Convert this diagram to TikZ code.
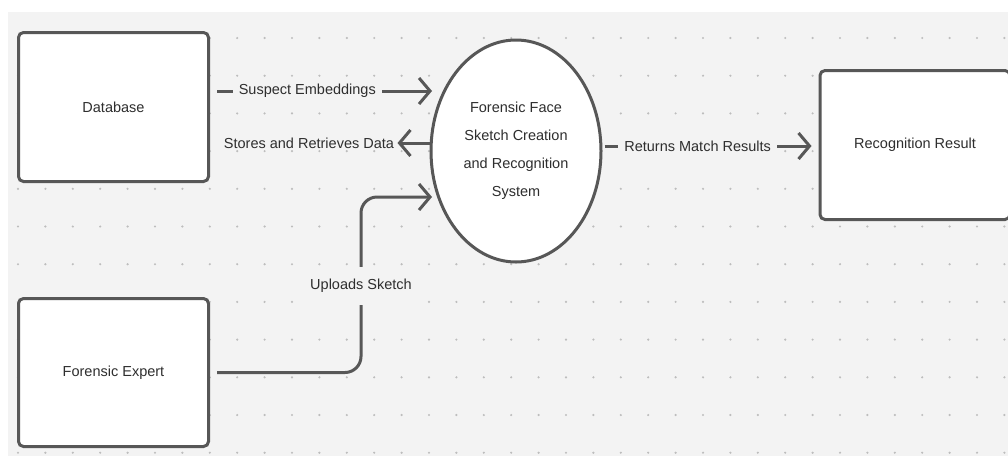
\documentclass[tikz,border=0pt]{standalone}
\usepackage{fontspec}
\setmainfont{Liberation Sans}
\usetikzlibrary{shapes.geometric,arrows.meta}
\definecolor{bgc}{HTML}{F3F3F3}
\definecolor{dotc}{HTML}{BDBDBD}
\definecolor{linec}{HTML}{575757}
\definecolor{txtc}{HTML}{2E2E2E}
\newcommand{\tallfont}{\fontsize{14.5}{17}\selectfont}
\tikzset{
  box/.style={draw=linec, line width=3pt, fill=white, rounded corners=5pt, inner sep=0pt,
    font=\tallfont, text=txtc},
  proc/.style={ellipse, draw=linec, line width=3pt, fill=white, inner sep=0pt,
    minimum width=170pt, minimum height=222pt, align=center,
    font=\fontsize{14.5}{28}\selectfont, text=txtc},
  conn/.style={draw=linec, line width=3pt, -{Straight Barb[length=11pt,width=26pt,line width=3pt]}},
  lbl/.style={fill=bgc, text=txtc, font=\tallfont, inner xsep=6pt, inner ysep=3pt},
}
\begin{document}
\begin{tikzpicture}[x=1pt,y=-1pt]
\useasboundingbox (0,0) rectangle (1008,456);
\clip (0,0) rectangle (1008,456);
\fill[white] (0,0) rectangle (1008,456);
\fill[bgc] (8,12) rectangle (1008,456);
% dot grid
\foreach \i in {0,...,36}{
  \foreach \j in {0,...,11}{
    \fill[dotc] ({18+27.4*\i},{38+37.7*\j}) circle (1.2pt);
  }
}
% nodes
\node[box, minimum width=190pt, minimum height=149pt] (db) at (113.5,107) {Database};
\node[box, minimum width=190pt, minimum height=148pt] (fe) at (113.5,372.5) {Forensic Expert};
\node[box, minimum width=190pt, minimum height=149pt] (res) at (915,145) {Recognition Result};
\node[proc] (sys) at (516,151) {Forensic Face\\Sketch Creation\\and Recognition\\System};
% connector end points
\coordinate (tipA) at (432,91);
\coordinate (tipC) at (432,197);
\coordinate (bend) at (361,197);
% connectors
\draw[conn] ([xshift=7pt,yshift=16pt]db.east) -- node[lbl, pos=0.42]{Suspect Embeddings} (tipA);
\draw[conn] ([yshift=8pt]sys.west) -- ++(-32,0) node[lbl, left, fill=none, inner xsep=2pt]{Stores and Retrieves Data};
\draw[conn] ([xshift=2pt,yshift=5pt]sys.east) -- node[lbl, pos=0.45]{Returns Match Results} ([xshift=-7pt,yshift=-1pt]res.west);
\draw[conn, rounded corners=16pt] ([xshift=7pt]fe.east) -| (bend) -- (tipC);
\node[lbl, inner ysep=12pt, inner xsep=2pt] (up) at (361,286) {Uploads Sketch};
\end{tikzpicture}
\end{document}
